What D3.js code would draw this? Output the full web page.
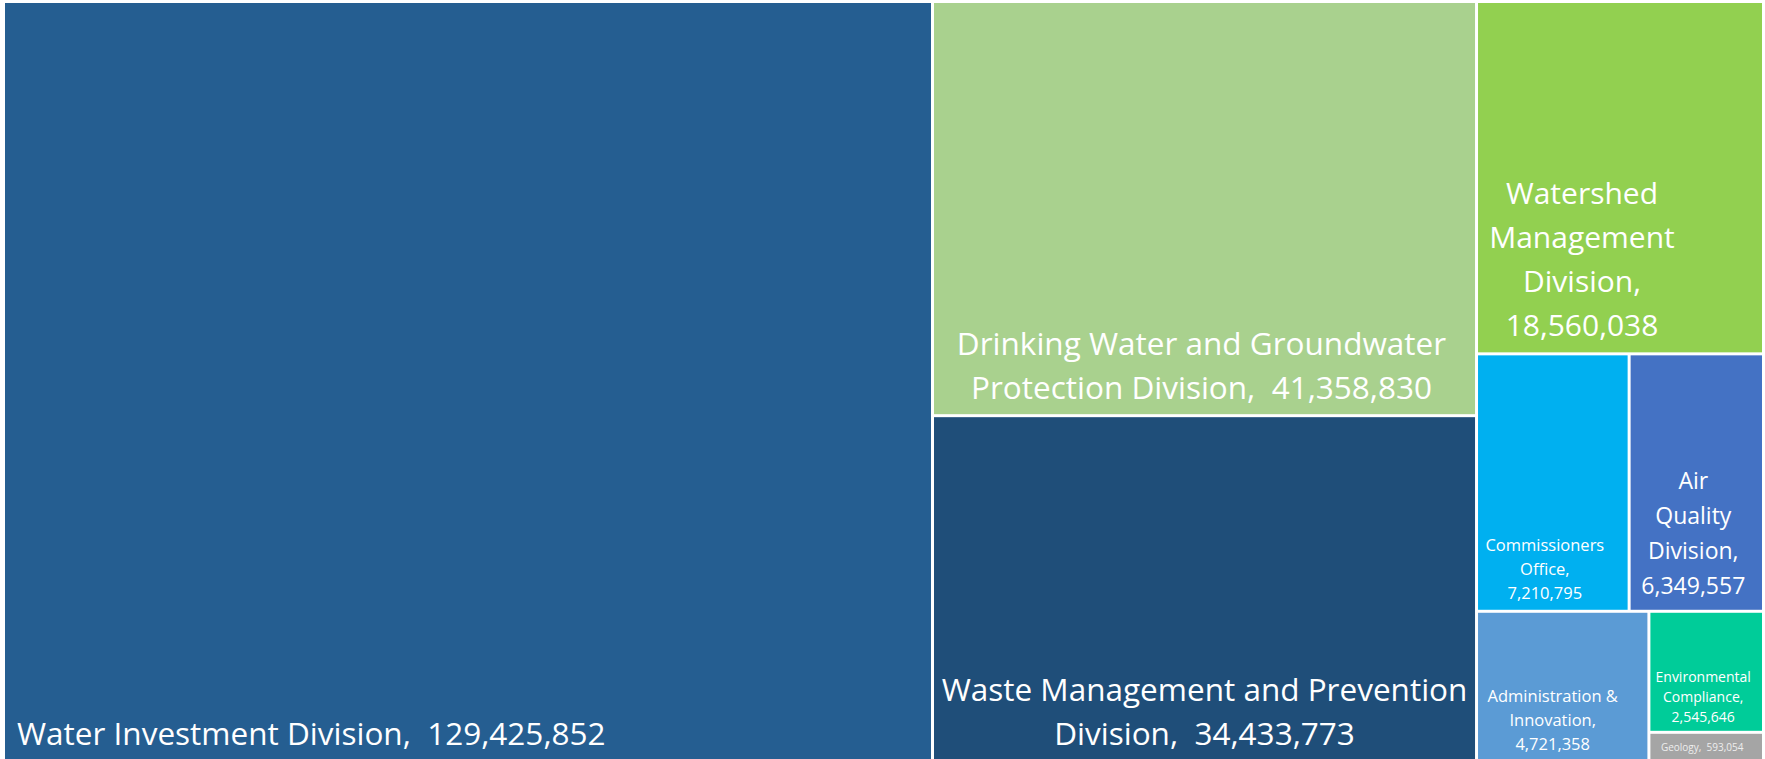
<!DOCTYPE html>
<html>
<head>
<meta charset="utf-8">
<script src="https://cdn.jsdelivr.net/npm/d3@7"></script>
<style>
  body { margin: 0; background: #fff; }
  svg text { font-family: "Open Sans", "Noto Sans", sans-serif; fill: #fff; white-space: pre; }
</style>
</head>
<body>
<svg id="chart"></svg>
<script>
// divisions and their budget
var names = [
    "Water Investment Division",
    "Drinking Water and Groundwater Protection Division",
    "Waste Management and Prevention Division",
    "Watershed Management Division",
    "Commissioners Office",
    "Air Quality Division",
    "Administration & Innovation",
    "Environmental Compliance",
    "Geology"
];
var values = [129425852, 41358830, 34433773, 18560038, 7210795, 6349557, 4721358, 2545646, 593054];
var colors = ["#255E91", "#A9D18E", "#1F4E79", "#92D050", "#00B0F0", "#4472C4", "#5B9BD5", "#00CC99", "#A5A5A5"];

// wrapped label lines, as in the picture
var labelLines = [
    ["Water Investment Division,  129,425,852"],
    ["Drinking Water and Groundwater", "Protection Division,  41,358,830"],
    ["Waste Management and Prevention", "Division,  34,433,773"],
    ["Watershed", "Management", "Division,", "18,560,038"],
    ["Commissioners", "Office,", "7,210,795"],
    ["Air", "Quality", "Division,", "6,349,557"],
    ["Administration &", "Innovation,", "4,721,358"],
    ["Environmental", "Compliance,", "2,545,646"],
    ["Geology,  593,054"]
];

// label placement: font size, line height, alignment, offset, distance of last line from bottom
var labelStyle = [
    {size: 31.5, lh: 44, align: "left", dx: 12, bottom: 25},
    {size: 31.5, lh: 44, align: "middle", dx: -3, bottom: 27},
    {size: 31.5, lh: 44, align: "middle", dx: 0, bottom: 25},
    {size: 30, lh: 44, align: "middle", dx: -38, bottom: 27},
    {size: 16.5, lh: 24, align: "middle", dx: -8, bottom: 17},
    {size: 23, lh: 35, align: "middle", dx: -3, bottom: 24},
    {size: 16.5, lh: 24, align: "middle", dx: -10, bottom: 15},
    {size: 14, lh: 20, align: "middle", dx: -3, bottom: 14},
    {size: 10, lh: 14, align: "middle", dx: -4, bottom: 12, color: "#eeeeee"}
];

var width = 1765,
    height = 759;

var svg = d3.select("#chart")
    .attr("width", width)
    .attr("height", height);

var root = d3.hierarchy({
        children: names.map(function (n, i) {
            return {name: n, value: values[i], i: i};
        })
    })
    .sum(function (d) { return d.value || 0; })
    .sort(function (a, b) { return b.value - a.value; });

d3.treemap()
    .tile(d3.treemapSquarify.ratio(1))
    .size([width, height])
    .paddingInner(3)
    .paddingTop(3)
    .paddingLeft(5)
    .paddingRight(3)
    .paddingBottom(0)(root);

var cells = svg.selectAll("g.cell")
    .data(root.leaves())
    .enter().append("g")
    .attr("class", "cell");

cells.append("rect")
    .attr("x", function (d) { return d.x0; })
    .attr("y", function (d) { return d.y0; })
    .attr("width", function (d) { return d.x1 - d.x0; })
    .attr("height", function (d) { return d.y1 - d.y0; })
    .attr("fill", function (d) { return colors[d.data.i]; });

cells.each(function (d) {
    var i = d.data.i,
        st = labelStyle[i],
        lines = labelLines[i],
        n = lines.length;
    var x = st.align === "left" ? d.x0 + st.dx : (d.x0 + d.x1) / 2 + st.dx;
    var lastY = d.y1 - st.bottom;
    var t = d3.select(this).append("text")
        .attr("xml:space", "preserve")
        .attr("text-anchor", st.align === "left" ? "start" : "middle")
        .style("font-size", st.size + "px");
    if (st.color) t.style("fill", st.color);
    lines.forEach(function (line, k) {
        t.append("tspan")
            .attr("x", x)
            .attr("y", lastY - (n - 1 - k) * st.lh + st.size * 0.36)
            .text(line);
    });
});
</script>
</body>
</html>
